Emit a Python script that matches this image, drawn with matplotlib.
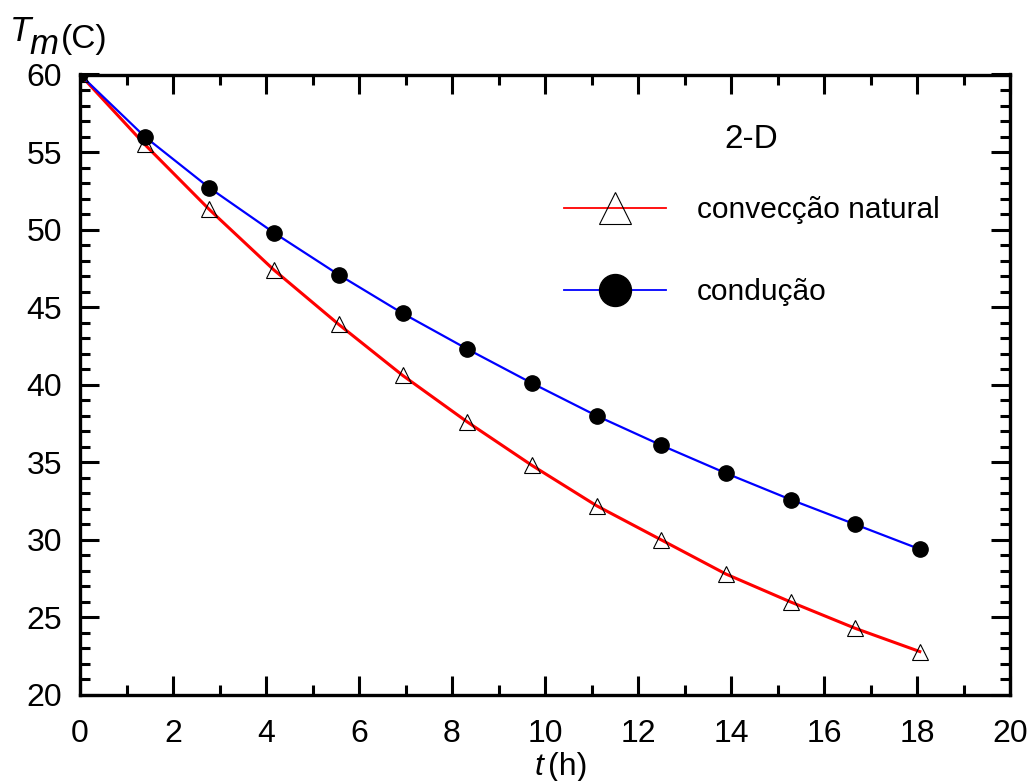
import matplotlib
matplotlib.use("Agg")
import matplotlib.pyplot as plt
from matplotlib.lines import Line2D
from matplotlib.ticker import MultipleLocator

# time (h), sampled every 5000 s
t_h = [0.0, 1.39, 2.78, 4.17, 5.56, 6.94, 8.33, 9.72, 11.11, 12.50,
       13.89, 15.28, 16.67, 18.06]
# mean temperature (C)
conveccao = [60.0, 55.5, 51.3, 47.4, 43.9, 40.6, 37.6, 34.8, 32.2, 30.0,
             27.8, 26.0, 24.3, 22.8]
conducao = [60.0, 56.0, 52.7, 49.8, 47.1, 44.6, 42.3, 40.1, 38.0, 36.1,
            34.3, 32.6, 31.0, 29.4]

x_ticks = [0, 2, 4, 6, 8, 10, 12, 14, 16, 18, 20]
y_ticks = [20, 25, 30, 35, 40, 45, 50, 55, 60]

plt.rcParams["font.family"] = ["Liberation Sans", "DejaVu Sans"]

W, H = 1029, 781
fig = plt.figure(figsize=(W / 100, H / 100), dpi=100)
ax = fig.add_axes([80 / W, 1 - 695 / H, (1010 - 80) / W, (695 - 74.5) / H])

ax.plot(t_h, conveccao, color="red", lw=2.2, zorder=3)
ax.plot(t_h, conveccao, ls="none", marker="^", ms=12, mfc="none",
        mec="black", mew=0.8, zorder=4)
ax.plot(t_h, conducao, color="blue", lw=1.6, zorder=3)
ax.plot(t_h, conducao, ls="none", marker="o", ms=11, mfc="black",
        mec="black", zorder=5)

ax.set_xlim(0, 20)
ax.set_ylim(20, 60)
ax.set_xticks(x_ticks)
ax.set_yticks(y_ticks)
ax.xaxis.set_minor_locator(MultipleLocator(1))
ax.yaxis.set_minor_locator(MultipleLocator(1))
ax.tick_params(which="both", direction="in", top=True, right=True,
               width=2.2, colors="black")
ax.tick_params(which="major", length=14, labelsize=23)
ax.tick_params(which="minor", length=7)
ax.tick_params(axis="x", which="major", pad=17)
ax.tick_params(axis="y", which="major", pad=13)
for sp in ax.spines.values():
    sp.set_linewidth(2.4)

# axis titles
fig.text(10 / W, 1 - 41 / H, "T", fontsize=25, style="italic", va="baseline")
fig.text(29 / W, 1 - 54 / H, "m", fontsize=25, style="italic", va="baseline")
fig.text(61 / W, 1 - 48 / H, "(C)", fontsize=24, va="baseline")
fig.text(535 / W, 1 - 775 / H, "t", fontsize=23, style="italic", va="baseline")
fig.text(548 / W, 1 - 775 / H, "(h)", fontsize=23, va="baseline")

ax.text((751 - 80) / 930, 1 - (140 - 74.5) / 620.5, "2-D",
        transform=ax.transAxes, fontsize=24, ha="center", va="center")

handles = [
    Line2D([], [], color="red", lw=1.3, marker="^", ms=23, mfc="none",
           mec="black", mew=0.8),
    Line2D([], [], color="blue", lw=1.3, marker="o", ms=23, mfc="black",
           mec="black"),
]
ax.legend(handles, ["convecção natural", "condução"], loc="upper left",
          bbox_to_anchor=((564 - 80) / 930, 1 - (196 - 74.5) / 620.5),
          frameon=False, fontsize=21.5, handlelength=3.4, handletextpad=1.05,
          labelspacing=1.82, borderpad=0, borderaxespad=0)

fig.savefig("out.png", dpi=100)
